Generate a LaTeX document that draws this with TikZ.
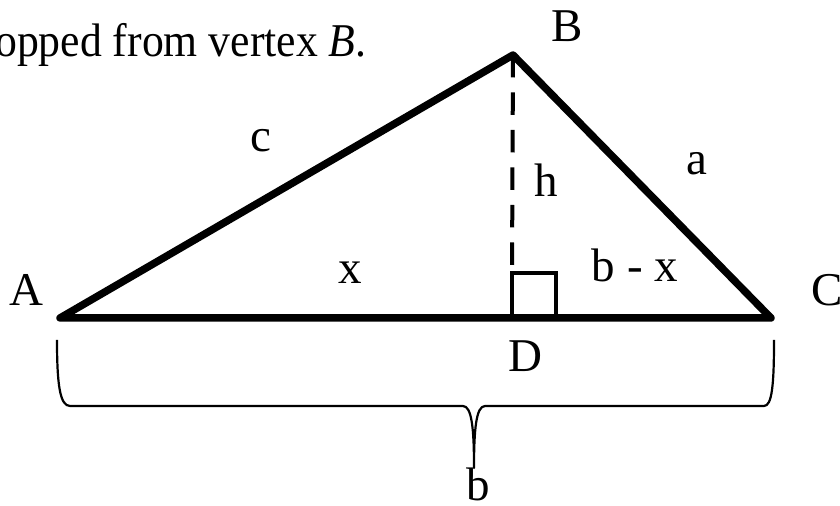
\documentclass[tikz,border=0pt]{standalone}
\usepackage{fontspec}
\usepackage{graphicx}
\setmainfont{Liberation Serif}
\begin{document}
\begin{tikzpicture}[x=0.5pt,y=-0.5pt,
  lbl/.style={inner sep=0pt,anchor=base,font=\fontsize{23.5}{28}\selectfont},
  side/.style={line width=3.75pt,line join=round,line cap=round},
  alt/.style={line width=2pt,dash pattern=on 11.25pt off 7.5pt},
  sq/.style={line width=2.2pt,line join=miter},
  brace/.style={line width=1.1pt,line join=round}]
\useasboundingbox (0,0) rectangle (840,506);
\begin{scope}
\clip (0,0) rectangle (840,506);
\node[lbl,anchor=base east] (txt) at (367,57) {\scalebox{0.93}[1]{opped from vertex \textit{B}.}};
\end{scope}
% vertices
\coordinate (A) at (60,318);
\coordinate (B) at (513,55);
\coordinate (C) at (771,318);
\coordinate (D) at (512,318);
\coordinate (Dt) at (512,273);
% altitude
\draw[alt] (B) -- (Dt);
% right angle square
\draw[sq] (D) -- (Dt) -- (556,273) -- (556,318);
% triangle
\draw[side] (A) -- (B) -- (C) -- cycle;
% brace
\draw[brace] (57,340) .. controls (57,385) and (60,406) .. (70,406)
  -- (463,406) .. controls (472,406) and (474,430) .. (474,468)
  .. controls (474,430) and (476,406) .. (485,406)
  -- (764,406) .. controls (772,406) and (774,385) .. (774,340);
% labels
\node[lbl] (lA) at (26,306) {A};
\node[lbl] (lB) at (567,42) {B};
\node[lbl] (lC) at (827,306) {C};
\node[lbl] (lD) at (525,372) {D};
\node[lbl] (lc) at (261,152) {c};
\node[lbl] (lh) at (546,197) {h};
\node[lbl] (la) at (697,175) {a};
\node[lbl] (lx) at (350,284) {x};
\node[lbl] (lbx) at (635,282) {b - x};
\node[lbl] (lb) at (478,501) {b};
\end{tikzpicture}
\end{document}
